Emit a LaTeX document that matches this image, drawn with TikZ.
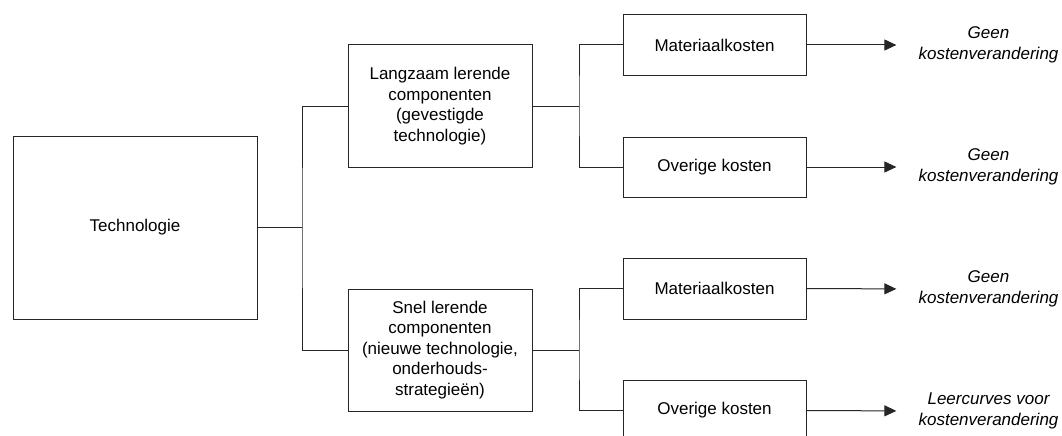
\documentclass[tikz,border=0pt]{standalone}
\usepackage{fontspec}
\setmainfont{Liberation Sans}
\usetikzlibrary{arrows.meta}
\begin{document}
\begin{tikzpicture}[x=1pt,y=-1pt,
  every node/.style={font=\fontsize{17}{20.5}\selectfont},
  box/.style={draw=black!85,line width=1pt,align=center,inner sep=0pt,anchor=center},
  res/.style={align=center,inner sep=0pt,font=\fontsize{17}{20.5}\selectfont\itshape},
  conn/.style={draw=black!85,line width=1pt},
  arr/.style={conn,-{Triangle[length=12pt,width=11pt]},shorten >=22pt}]
\useasboundingbox (0,0) rectangle (1062,436);
\node[box,minimum width=244pt,minimum height=183pt] (tech) at (135,227.5) {Technologie};
\node[box,minimum width=184pt,minimum height=122pt] (slow) at (440,106) {Langzaam lerende\\componenten\\(gevestigde\\technologie)};
\node[box,minimum width=184pt,minimum height=122pt] (fast) at (440,350) {Snel lerende\\componenten\\(nieuwe technologie,\\onderhouds-\\strategieën)};
\node[box,minimum width=183pt,minimum height=60pt] (m1) at (714.5,45) {Materiaalkosten};
\node[box,minimum width=183pt,minimum height=60pt] (o1) at (714.5,167) {Overige kosten};
\node[box,minimum width=183pt,minimum height=61pt] (m2) at (714.5,288.5) {Materiaalkosten};
\node[box,minimum width=183pt,minimum height=61pt] (o2) at (714.5,410.5) {Overige kosten};
\node[res] (g1) at (988.5,45) {Geen\\kostenverandering};
\node[res] (g2) at (988.5,167) {Geen\\kostenverandering};
\node[res] (g3) at (988.5,289) {Geen\\kostenverandering};
\node[res] (g4) at (988.5,411) {Leercurves voor\\kostenverandering};
\coordinate (j1) at (302,227.5);
\coordinate (j2) at (579,106);
\coordinate (j3) at (579,350);
\draw[conn] (tech.east) -- (j1);
\draw[conn] (slow.west) -| (j1) |- (fast.west);
\draw[conn] (slow.east) -- (j2);
\draw[conn] (m1.west) -| (j2) |- (o1.west);
\draw[conn] (fast.east) -- (j3);
\draw[conn] (m2.west) -| (j3) |- (o2.west);
\draw[arr] (m1.east) -- (g1.west);
\draw[arr] (o1.east) -- (g2.west);
\draw[arr] (m2.east) -- (g3.west);
\draw[arr] (o2.east) -- (g4.west);
\end{tikzpicture}
\end{document}
